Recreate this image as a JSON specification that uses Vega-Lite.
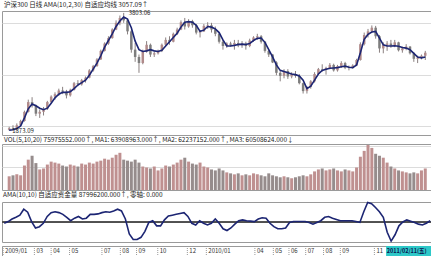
{
"$schema": "https://vega.github.io/schema/vega-lite/v6.json",
"padding": {"top": 1, "left": 0, "right": 0, "bottom": 0},
"background": "white",
"spacing": 0,
"config": {
  "concat": {"spacing": 0},
  "view": {"stroke": "#9a9a9a", "strokeWidth": 1},
  "font": "Noto Sans CJK SC",
  "title": {"anchor": "start", "fontSize": 6.5, "fontWeight": "normal", "offset": 1, "dx": 2, "color": "#222", "font": "Noto Sans CJK SC", "baseline": "top"},
  "axis": {"gridColor": "#dcdcdc", "gridWidth": 1}
},
"datasets": {
  "k": [
{"d":"2009-01-07","o":1885,"h":1935,"l":1873.09,"c":1910,"v":28,"a":1878,"s":-4},
{"d":"2009-01-14","o":1910,"h":1960,"l":1880,"c":1890,"v":30,"a":1885,"s":0},
{"d":"2009-01-21","o":1890,"h":1990,"l":1885,"c":1960,"v":32,"a":1905,"s":6},
{"d":"2009-01-28","o":1960,"h":2050,"l":1950,"c":2030,"v":30,"a":1950,"s":10},
{"d":"2009-02-04","o":2030,"h":2200,"l":2020,"c":2180,"v":50,"a":2080,"s":15},
{"d":"2009-02-11","o":2180,"h":2380,"l":2170,"c":2340,"v":62,"a":2230,"s":29},
{"d":"2009-02-18","o":2340,"h":2420,"l":2250,"c":2280,"v":70,"a":2310,"s":22},
{"d":"2009-02-25","o":2280,"h":2300,"l":2110,"c":2150,"v":55,"a":2280,"s":0},
{"d":"2009-03-04","o":2150,"h":2220,"l":2080,"c":2180,"v":42,"a":2240,"s":-15},
{"d":"2009-03-11","o":2180,"h":2260,"l":2120,"c":2230,"v":44,"a":2215,"s":-12},
{"d":"2009-03-18","o":2230,"h":2360,"l":2210,"c":2340,"v":52,"a":2240,"s":-4},
{"d":"2009-03-25","o":2340,"h":2450,"l":2320,"c":2430,"v":58,"a":2320,"s":12},
{"d":"2009-04-01","o":2430,"h":2500,"l":2380,"c":2470,"v":56,"a":2410,"s":21},
{"d":"2009-04-08","o":2470,"h":2560,"l":2440,"c":2530,"v":54,"a":2470,"s":23},
{"d":"2009-04-15","o":2530,"h":2590,"l":2470,"c":2510,"v":50,"a":2500,"s":21},
{"d":"2009-04-22","o":2510,"h":2540,"l":2400,"c":2450,"v":48,"a":2500,"s":17},
{"d":"2009-04-29","o":2450,"h":2560,"l":2430,"c":2540,"v":52,"a":2510,"s":10},
{"d":"2009-05-06","o":2540,"h":2670,"l":2530,"c":2650,"v":50,"a":2560,"s":2},
{"d":"2009-05-13","o":2650,"h":2700,"l":2600,"c":2630,"v":48,"a":2620,"s":8},
{"d":"2009-05-20","o":2630,"h":2720,"l":2610,"c":2700,"v":54,"a":2660,"s":12},
{"d":"2009-05-27","o":2700,"h":2760,"l":2660,"c":2740,"v":52,"a":2700,"s":6},
{"d":"2009-06-03","o":2740,"h":2880,"l":2730,"c":2860,"v":56,"a":2780,"s":8},
{"d":"2009-06-10","o":2860,"h":2950,"l":2840,"c":2930,"v":54,"a":2880,"s":17},
{"d":"2009-06-17","o":2930,"h":3060,"l":2920,"c":3040,"v":58,"a":2980,"s":17},
{"d":"2009-06-24","o":3040,"h":3200,"l":3030,"c":3180,"v":60,"a":3100,"s":18},
{"d":"2009-07-01","o":3180,"h":3320,"l":3170,"c":3300,"v":64,"a":3240,"s":21},
{"d":"2009-07-08","o":3300,"h":3420,"l":3280,"c":3390,"v":62,"a":3350,"s":23},
{"d":"2009-07-15","o":3390,"h":3550,"l":3380,"c":3530,"v":66,"a":3460,"s":22},
{"d":"2009-07-22","o":3530,"h":3680,"l":3520,"c":3640,"v":72,"a":3580,"s":25},
{"d":"2009-07-29","o":3640,"h":3760,"l":3600,"c":3720,"v":76,"a":3670,"s":29},
{"d":"2009-08-05","o":3720,"h":3803.06,"l":3640,"c":3680,"v":62,"a":3735,"s":25},
{"d":"2009-08-12","o":3680,"h":3700,"l":3450,"c":3500,"v":60,"a":3700,"s":6},
{"d":"2009-08-19","o":3500,"h":3520,"l":3150,"c":3200,"v":58,"a":3560,"s":-29},
{"d":"2009-08-26","o":3200,"h":3310,"l":3000,"c":3080,"v":62,"a":3340,"s":-42},
{"d":"2009-09-02","o":3080,"h":3120,"l":2820,"c":2980,"v":56,"a":3200,"s":-42},
{"d":"2009-09-09","o":2980,"h":3200,"l":2960,"c":3170,"v":48,"a":3170,"s":-37},
{"d":"2009-09-16","o":3170,"h":3340,"l":3150,"c":3280,"v":46,"a":3180,"s":-23},
{"d":"2009-09-23","o":3280,"h":3300,"l":3080,"c":3120,"v":44,"a":3200,"s":-2},
{"d":"2009-09-30","o":3120,"h":3170,"l":3080,"c":3140,"v":48,"a":3180,"s":2},
{"d":"2009-10-07","o":3140,"h":3200,"l":3120,"c":3180,"v":40,"a":3170,"s":-10},
{"d":"2009-10-14","o":3180,"h":3300,"l":3160,"c":3280,"v":44,"a":3190,"s":-10},
{"d":"2009-10-21","o":3280,"h":3400,"l":3260,"c":3360,"v":50,"a":3260,"s":4},
{"d":"2009-10-28","o":3360,"h":3420,"l":3280,"c":3330,"v":48,"a":3330,"s":13},
{"d":"2009-11-04","o":3330,"h":3480,"l":3320,"c":3460,"v":52,"a":3400,"s":15},
{"d":"2009-11-11","o":3460,"h":3560,"l":3440,"c":3530,"v":56,"a":3470,"s":17},
{"d":"2009-11-18","o":3530,"h":3680,"l":3520,"c":3650,"v":62,"a":3570,"s":19},
{"d":"2009-11-25","o":3650,"h":3720,"l":3530,"c":3580,"v":66,"a":3650,"s":21},
{"d":"2009-12-02","o":3580,"h":3700,"l":3560,"c":3670,"v":58,"a":3660,"s":12},
{"d":"2009-12-09","o":3670,"h":3690,"l":3560,"c":3600,"v":54,"a":3650,"s":-4},
{"d":"2009-12-16","o":3600,"h":3620,"l":3450,"c":3480,"v":52,"a":3600,"s":-8},
{"d":"2009-12-23","o":3480,"h":3520,"l":3400,"c":3500,"v":56,"a":3500,"s":2},
{"d":"2009-12-30","o":3500,"h":3620,"l":3490,"c":3590,"v":48,"a":3520,"s":-4},
{"d":"2010-01-06","o":3590,"h":3650,"l":3540,"c":3600,"v":46,"a":3580,"s":-8},
{"d":"2010-01-13","o":3600,"h":3640,"l":3480,"c":3530,"v":42,"a":3570,"s":-4},
{"d":"2010-01-20","o":3530,"h":3580,"l":3420,"c":3460,"v":40,"a":3540,"s":6},
{"d":"2010-01-27","o":3460,"h":3480,"l":3300,"c":3330,"v":44,"a":3480,"s":-4},
{"d":"2010-02-03","o":3330,"h":3360,"l":3200,"c":3260,"v":40,"a":3360,"s":-17},
{"d":"2010-02-10","o":3260,"h":3320,"l":3230,"c":3300,"v":36,"a":3260,"s":-21},
{"d":"2010-02-17","o":3300,"h":3330,"l":3250,"c":3280,"v":34,"a":3260,"s":-15},
{"d":"2010-02-24","o":3280,"h":3360,"l":3200,"c":3310,"v":32,"a":3270,"s":-6},
{"d":"2010-03-03","o":3310,"h":3360,"l":3240,"c":3270,"v":34,"a":3285,"s":2},
{"d":"2010-03-10","o":3270,"h":3340,"l":3230,"c":3300,"v":30,"a":3290,"s":4},
{"d":"2010-03-17","o":3300,"h":3330,"l":3200,"c":3260,"v":32,"a":3285,"s":2},
{"d":"2010-03-24","o":3260,"h":3380,"l":3240,"c":3350,"v":30,"a":3300,"s":1},
{"d":"2010-03-31","o":3350,"h":3420,"l":3330,"c":3400,"v":34,"a":3350,"s":0},
{"d":"2010-04-07","o":3400,"h":3460,"l":3360,"c":3420,"v":32,"a":3385,"s":6},
{"d":"2010-04-14","o":3420,"h":3440,"l":3300,"c":3330,"v":30,"a":3390,"s":9},
{"d":"2010-04-21","o":3330,"h":3340,"l":3150,"c":3180,"v":28,"a":3320,"s":8},
{"d":"2010-04-28","o":3180,"h":3200,"l":3080,"c":3120,"v":34,"a":3200,"s":-4},
{"d":"2010-05-05","o":3120,"h":3130,"l":2980,"c":2990,"v":30,"a":3080,"s":-12},
{"d":"2010-05-12","o":2990,"h":3010,"l":2780,"c":2820,"v":28,"a":2950,"s":-17},
{"d":"2010-05-19","o":2820,"h":2850,"l":2680,"c":2770,"v":26,"a":2860,"s":-17},
{"d":"2010-05-26","o":2770,"h":2880,"l":2730,"c":2850,"v":28,"a":2840,"s":-15},
{"d":"2010-06-02","o":2850,"h":2880,"l":2720,"c":2760,"v":26,"a":2820,"s":-2},
{"d":"2010-06-09","o":2760,"h":2830,"l":2730,"c":2800,"v":24,"a":2800,"s":0},
{"d":"2010-06-16","o":2800,"h":2850,"l":2740,"c":2770,"v":26,"a":2790,"s":0},
{"d":"2010-06-23","o":2770,"h":2800,"l":2630,"c":2650,"v":28,"a":2770,"s":0},
{"d":"2010-06-30","o":2650,"h":2660,"l":2480,"c":2520,"v":30,"a":2700,"s":0},
{"d":"2010-07-07","o":2520,"h":2600,"l":2480,"c":2590,"v":28,"a":2560,"s":-2},
{"d":"2010-07-14","o":2590,"h":2700,"l":2560,"c":2680,"v":32,"a":2600,"s":-6},
{"d":"2010-07-21","o":2680,"h":2830,"l":2660,"c":2800,"v":38,"a":2700,"s":-2},
{"d":"2010-07-28","o":2800,"h":2900,"l":2790,"c":2880,"v":42,"a":2800,"s":2},
{"d":"2010-08-04","o":2880,"h":2960,"l":2840,"c":2870,"v":44,"a":2860,"s":10},
{"d":"2010-08-11","o":2870,"h":2920,"l":2790,"c":2900,"v":40,"a":2880,"s":12},
{"d":"2010-08-18","o":2900,"h":2980,"l":2880,"c":2950,"v":42,"a":2895,"s":8},
{"d":"2010-08-25","o":2950,"h":2970,"l":2840,"c":2860,"v":44,"a":2900,"s":5},
{"d":"2010-09-01","o":2860,"h":2950,"l":2840,"c":2930,"v":40,"a":2905,"s":2},
{"d":"2010-09-08","o":2930,"h":3010,"l":2900,"c":2980,"v":38,"a":2920,"s":2},
{"d":"2010-09-15","o":2980,"h":3000,"l":2880,"c":2900,"v":42,"a":2930,"s":2},
{"d":"2010-09-22","o":2900,"h":2940,"l":2860,"c":2910,"v":40,"a":2910,"s":2},
{"d":"2010-09-29","o":2910,"h":2960,"l":2890,"c":2940,"v":38,"a":2905,"s":0},
{"d":"2010-10-06","o":2940,"h":3050,"l":2930,"c":3030,"v":46,"a":2950,"s":-2},
{"d":"2010-10-13","o":3030,"h":3320,"l":3020,"c":3290,"v":68,"a":3150,"s":23},
{"d":"2010-10-20","o":3290,"h":3480,"l":3270,"c":3440,"v":80,"a":3370,"s":45},
{"d":"2010-10-27","o":3440,"h":3540,"l":3400,"c":3500,"v":92,"a":3450,"s":42},
{"d":"2010-11-03","o":3500,"h":3597,"l":3480,"c":3560,"v":86,"a":3490,"s":33},
{"d":"2010-11-10","o":3560,"h":3590,"l":3380,"c":3420,"v":74,"a":3500,"s":23},
{"d":"2010-11-17","o":3420,"h":3440,"l":3150,"c":3220,"v":70,"a":3390,"s":10},
{"d":"2010-11-24","o":3220,"h":3320,"l":3140,"c":3280,"v":66,"a":3280,"s":-25},
{"d":"2010-12-01","o":3280,"h":3340,"l":3180,"c":3300,"v":56,"a":3260,"s":-46},
{"d":"2010-12-08","o":3300,"h":3360,"l":3230,"c":3270,"v":48,"a":3260,"s":-31},
{"d":"2010-12-15","o":3270,"h":3360,"l":3240,"c":3320,"v":44,"a":3265,"s":-10},
{"d":"2010-12-22","o":3320,"h":3330,"l":3170,"c":3190,"v":40,"a":3255,"s":-1},
{"d":"2010-12-29","o":3190,"h":3250,"l":3150,"c":3220,"v":38,"a":3235,"s":4},
{"d":"2011-01-05","o":3220,"h":3290,"l":3190,"c":3250,"v":36,"a":3225,"s":1},
{"d":"2011-01-12","o":3250,"h":3260,"l":3120,"c":3140,"v":34,"a":3200,"s":-2},
{"d":"2011-01-19","o":3140,"h":3160,"l":3000,"c":3050,"v":36,"a":3140,"s":-6},
{"d":"2011-01-26","o":3050,"h":3100,"l":2980,"c":3070,"v":34,"a":3080,"s":-8},
{"d":"2011-02-02","o":3070,"h":3120,"l":3040,"c":3100,"v":40,"a":3065,"s":-4},
{"d":"2011-02-09","o":3100,"h":3180,"l":3030,"c":3150,"v":44,"a":3080,"s":2}
  ],
  "ticks": [
{"d":"2009-01-05","t":"2009/01"},{"d":"2009-03-02","t":"03"},{"d":"2009-04-01","t":"04"},{"d":"2009-05-04","t":"05"},
{"d":"2009-07-01","t":"07"},{"d":"2009-08-03","t":"08"},{"d":"2009-09-01","t":"09"},{"d":"2009-10-09","t":"10"},
{"d":"2009-12-01","t":"12"},{"d":"2010-01-04","t":"2010/01"},{"d":"2010-04-01","t":"04"},{"d":"2010-05-04","t":"05"},
{"d":"2010-06-01","t":"06"},{"d":"2010-07-01","t":"07"},{"d":"2010-08-02","t":"08"},{"d":"2010-09-01","t":"09"},
{"d":"2010-11-01","t":"11"}
  ],
  "cursor": [
{"d1":"2010-11-22","d2":"2011-02-14","dm":"2010-12-29","t":"2011/02/11(五)"}
  ]
},
"vconcat": [
  {
    "width": 431, "height": 124,
    "title": {"text": "沪深300  日线  AMA(10,2,30)  自适应均线  3057.09↑"},
    "data": {"name": "k"},
    "layer": [
      {"mark": {"type": "rule", "color": "#8a8080", "strokeWidth": 1},
       "encoding": {
         "x": {"field": "d", "type": "temporal", "scale": {"domain": ["2009-01-03", "2011-02-14"]}, "axis": null},
         "y": {"field": "l", "type": "quantitative", "scale": {"domain": [1800, 3834], "nice": false, "zero": false},
               "axis": {"values": [1952, 2363, 2790, 3217, 3629], "labels": false, "ticks": false, "domain": false, "title": null, "minExtent": 0, "maxExtent": 0}},
         "y2": {"field": "h"}}},
      {"mark": {"type": "bar", "size": 2.5},
       "encoding": {
         "x": {"field": "d", "type": "temporal"},
         "y": {"field": "o", "type": "quantitative"},
         "y2": {"field": "c"},
         "color": {"condition": {"test": "datum.c >= datum.o", "value": "#b08a8a"}, "value": "#7d7d7d"}}},
      {"mark": {"type": "line", "color": "#1c2573", "strokeWidth": 1.6},
       "encoding": {
         "x": {"field": "d", "type": "temporal"},
         "y": {"field": "a", "type": "quantitative"}}},
      {"transform": [{"filter": "datum.h == 3803.06"}],
       "mark": {"type": "text", "align": "left", "baseline": "middle", "dx": 5, "dy": 0, "fontSize": 6, "color": "#222"},
       "encoding": {
         "x": {"field": "d", "type": "temporal"},
         "y": {"field": "h", "type": "quantitative"},
         "text": {"field": "h", "type": "quantitative", "format": ".2f"}}},
      {"transform": [{"filter": "datum.l == 1873.09"}],
       "mark": {"type": "text", "align": "left", "baseline": "middle", "dx": 3, "dy": 0, "fontSize": 6, "color": "#222"},
       "encoding": {
         "x": {"field": "d", "type": "temporal"},
         "y": {"field": "l", "type": "quantitative"},
         "text": {"field": "l", "type": "quantitative", "format": ".2f"}}}
    ]
  },
  {
    "width": 431, "height": 46,
    "title": {"text": "VOL(5,10,20) 75975552.000↑, MA1: 63908963.000↑, MA2: 62237152.000↑, MA3: 60508624.000↓"},
    "data": {"name": "k"},
    "mark": {"type": "bar", "size": 3},
    "encoding": {
      "x": {"field": "d", "type": "temporal", "scale": {"domain": ["2009-01-03", "2011-02-14"]}, "axis": null},
      "y": {"field": "v", "type": "quantitative", "scale": {"domain": [0, 94], "nice": false},
            "axis": {"values": [46, 90], "labels": false, "ticks": false, "domain": false, "title": null, "minExtent": 0, "maxExtent": 0}},
      "color": {"condition": {"test": "datum.c >= datum.o", "value": "#bf9090"}, "value": "#968c8c"}
    }
  },
  {
    "width": 431, "height": 40,
    "title": {"text": "AMA(10,10)  自适应资金量  87996200.000↑,  零轴:  0.000"},
    "data": {"name": "k"},
    "layer": [
      {"mark": {"type": "rule", "color": "#555555", "strokeWidth": 1},
       "encoding": {"y": {"datum": 0, "type": "quantitative"}}},
      {"mark": {"type": "line", "color": "#1c2573", "strokeWidth": 1.6},
       "encoding": {
         "x": {"field": "d", "type": "temporal", "scale": {"domain": ["2009-01-03", "2011-02-14"]}, "axis": null},
         "y": {"field": "s", "type": "quantitative", "scale": {"domain": [-48, 46], "nice": false, "zero": false},
               "axis": {"values": [-28, 28], "labels": false, "ticks": false, "domain": false, "title": null, "minExtent": 0, "maxExtent": 0}}}}
    ]
  },
  {
    "width": 431, "height": 10,
    "layer": [
      {"data": {"name": "ticks"},
       "mark": {"type": "rule", "color": "#999999", "strokeDash": [1, 1]},
       "encoding": {"x": {"field": "d", "type": "temporal", "scale": {"domain": ["2009-01-03", "2011-02-14"]}, "axis": null}}},
      {"data": {"name": "ticks"},
       "mark": {"type": "text", "align": "left", "baseline": "middle", "dx": 2, "fontSize": 6, "color": "#333"},
       "encoding": {"x": {"field": "d", "type": "temporal"}, "text": {"field": "t"}}},
      {"data": {"name": "cursor"},
       "mark": {"type": "rect", "color": "#2ec8c8"},
       "encoding": {"x": {"field": "d1", "type": "temporal"}, "x2": {"field": "d2"}}},
      {"data": {"name": "cursor"},
       "mark": {"type": "text", "align": "center", "baseline": "middle", "fontSize": 5.5, "fontWeight": "bold", "color": "#0a1450"},
       "encoding": {"x": {"field": "dm", "type": "temporal"}, "text": {"field": "t"}}}
    ]
  }
]
}
